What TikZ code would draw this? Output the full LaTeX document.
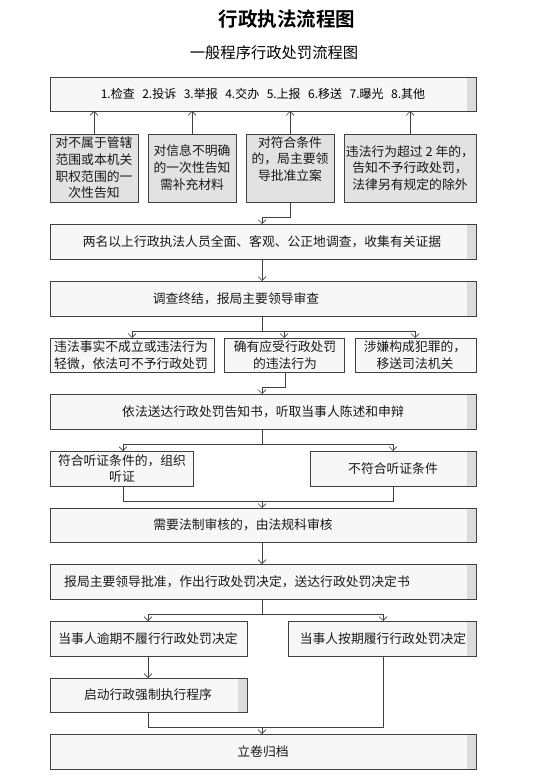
\documentclass[tikz,border=0pt]{standalone}
\usepackage{fontspec}
\setmainfont{Noto Sans CJK SC}[BoldFont={Noto Sans CJK SC Bold}]
\usetikzlibrary{arrows.meta}
\definecolor{edge}{HTML}{404040}
\definecolor{strip}{HTML}{DCDCDC}
\definecolor{boxfill}{HTML}{F7F7F7}
\definecolor{greyfill}{HTML}{E2E2E2}
\tikzset{
  box/.style={draw=edge, line width=0.8pt, fill=boxfill, inner sep=0pt, outer sep=0pt,
    path picture={\fill[strip] ([xshift=-9pt]path picture bounding box.north east) rectangle (path picture bounding box.south east);}},
  gbox/.style={draw=edge, line width=0.8pt, fill=greyfill, inner sep=0pt, outer sep=0pt},
  wbox/.style={draw=edge, line width=0.8pt, fill=boxfill, inner sep=0pt, outer sep=0pt},
  txt/.style={font=\fontsize{12.8}{16.7}\selectfont, align=center, inner sep=0pt, text=black!90},
  link/.style={draw=edge, line width=0.7pt},
  arr/.style={link, -{Straight Barb[length=4pt,width=8pt,line width=0.7pt]}},
}
\newcommand{\bx}[6][box]{\node[#1, minimum width={(#5-#3)*1pt}, minimum height={(#6-#4)*1pt}] (#2) at ({(#3+#5)/2},{(#4+#6)/2}) {};}
\begin{document}
\begin{tikzpicture}[x=1pt,y=-1pt]
\useasboundingbox[fill=white] (0,0) rectangle (544,783);
% titles
\node[font=\bfseries\fontsize{19.5}{22}\selectfont, inner sep=0pt] (title) at (287,19) {行政执法流程图};
\node[font=\fontsize{15.3}{18}\selectfont, inner sep=0pt] (sub) at (274,53) {一般程序行政处罚流程图};
% top box
\bx{top}{50}{77}{476}{111}
\node[font=\fontsize{12}{14}\selectfont, inner sep=0pt] (toptxt) at (263,94) {1.检查\hspace{7.5pt}2.投诉\hspace{7.5pt}3.举报\hspace{7.5pt}4.交办\hspace{7.5pt}5.上报\hspace{7.5pt}6.移送\hspace{7.5pt}7.曝光\hspace{7.5pt}8.其他};
% row of four
\bx[gbox]{ra}{50}{134}{138}{202}
\bx[gbox]{rb}{148}{134}{236}{202}
\bx[gbox]{rc}{246}{134}{334}{202}
\bx[gbox]{rd}{344}{134}{476}{202}
\node[txt] (ta) at (94,168) {对不属于管辖\\范围或本机关\\职权范围的一\\次性告知};
\node[txt] (tb) at (192,167.5) {对信息不明确\\的一次性告知\\需补充材料};
\node[txt] (tc) at (290,159) {对符合条件\\的，局主要领\\导批准立案};
\node[txt] (td) at (410,168) {违法行为超过 2 年的，\\告知不予行政处罚，\\法律另有规定的除外};
\draw[arr] (ra.north -| 94,0) -- (top.south -| 94,0);
\draw[arr] (rb.north -| 192,0) -- (top.south -| 192,0);
\draw[arr] (rc.north -| 290,0) -- (top.south -| 290,0);
\draw[arr] (rd.north -| 410,0) -- (top.south -| 410,0);
% investigation
\bx{inv}{50}{224}{476}{259}
\node[txt] (tinv) at (262,242) {两名以上行政执法人员全面、客观、公正地调查，收集有关证据};
\coordinate (j1) at (290,217);
\coordinate (j1b) at (262,217);
\draw[arr] (rc.south) -- (j1) -- (j1b) -- (inv.north -| j1b);
% review
\bx{rev}{50}{281}{476}{316}
\node[txt] (trev) at (236,298.5) {调查终结，报局主要领导审查};
\draw[arr] (inv.south -| 262,0) -- (rev.north -| 262,0);
% three outcomes
\bx[wbox]{oa}{50}{338}{214}{372}
\bx[wbox]{ob}{224}{338}{344}{372}
\bx[wbox]{oc}{355}{338}{476}{372}
\node[txt, font=\fontsize{12.8}{17}\selectfont] (toa) at (131,355) {违法事实不成立或违法行为\\轻微，依法可不予行政处罚};
\node[txt, font=\fontsize{12.8}{17}\selectfont] (tob) at (285,355) {确有应受行政处罚\\的违法行为};
\node[txt, font=\fontsize{12.8}{17}\selectfont] (toc) at (415,355) {涉嫌构成犯罪的，\\移送司法机关};
\coordinate (j2) at (262,331);
\draw[link] (rev.south -| j2) -- (j2);
\draw[arr] (j2) -| (oa.north -| 132,0);
\draw[arr] (j2) -| (ob.north -| 284,0);
\draw[arr] (j2) -| (oc.north -| 415,0);
% notice
\bx{note}{50}{394}{476}{429}
\node[txt] (tnote) at (263,411.5) {依法送达行政处罚告知书，听取当事人陈述和申辩};
\coordinate (j3) at (285,387);
\coordinate (j3b) at (262,387);
\draw[arr] (ob.south -| j3) -- (j3) -- (j3b) -- (note.north -| j3b);
% hearing
\bx[wbox]{ha}{50}{451}{193}{486}
\bx{hb}{310}{451}{476}{486}
\node[txt] (tha) at (122,468.5) {符合听证条件的，组织\\听证};
\node[txt] (thb) at (393,468.5) {不符合听证条件};
\coordinate (j4) at (262,444);
\draw[link] (note.south -| j4) -- (j4);
\draw[arr] (j4) -| (ha.north -| 123,0);
\draw[arr] (j4) -| (hb.north -| 393,0);
% legal review
\bx{legal}{50}{508}{476}{542}
\node[txt] (tlegal) at (243,525) {需要法制审核的，由法规科审核};
\coordinate (j5a) at (123,501);
\coordinate (j5b) at (393,501);
\coordinate (j5) at (262,501);
\draw[link] (ha.south -| j5a) -- (j5a) -- (j5b) -- (hb.south -| j5b);
\draw[arr] (j5) -- (legal.north -| j5);
% decision
\bx{dec}{50}{564}{476}{599}
\node[txt] (tdec) at (237,582) {报局主要领导批准，作出行政处罚决定，送达行政处罚决定书};
\draw[arr] (legal.south -| 262,0) -- (dec.north -| 262,0);
% execution
\bx[wbox]{ea}{50}{621}{247}{656}
\bx{eb}{288}{621}{476}{656}
\node[txt] (tea) at (148,638.5) {当事人逾期不履行行政处罚决定};
\node[txt] (teb) at (383,638.5) {当事人按期履行行政处罚决定};
\coordinate (j6) at (262,614);
\draw[link] (dec.south -| j6) -- (j6);
\draw[arr] (j6) -| (ea.north -| 148,0);
\draw[arr] (j6) -| (eb.north -| 383,0);
% enforcement
\bx{enf}{50}{678}{247}{712}
\node[txt] (tenf) at (148,695) {启动行政强制执行程序};
\draw[arr] (ea.south -| 148,0) -- (enf.north -| 148,0);
% archive
\bx{arc}{50}{734}{476}{769}
\node[txt] (tarc) at (263,752) {立卷归档};
\coordinate (j7a) at (148,727);
\coordinate (j7b) at (383,727);
\coordinate (j7) at (262,727);
\draw[link] (enf.south -| j7a) -- (j7a) -- (j7b) -- (eb.south -| j7b);
\draw[arr] (j7) -- (arc.north -| j7);
\end{tikzpicture}
\end{document}
